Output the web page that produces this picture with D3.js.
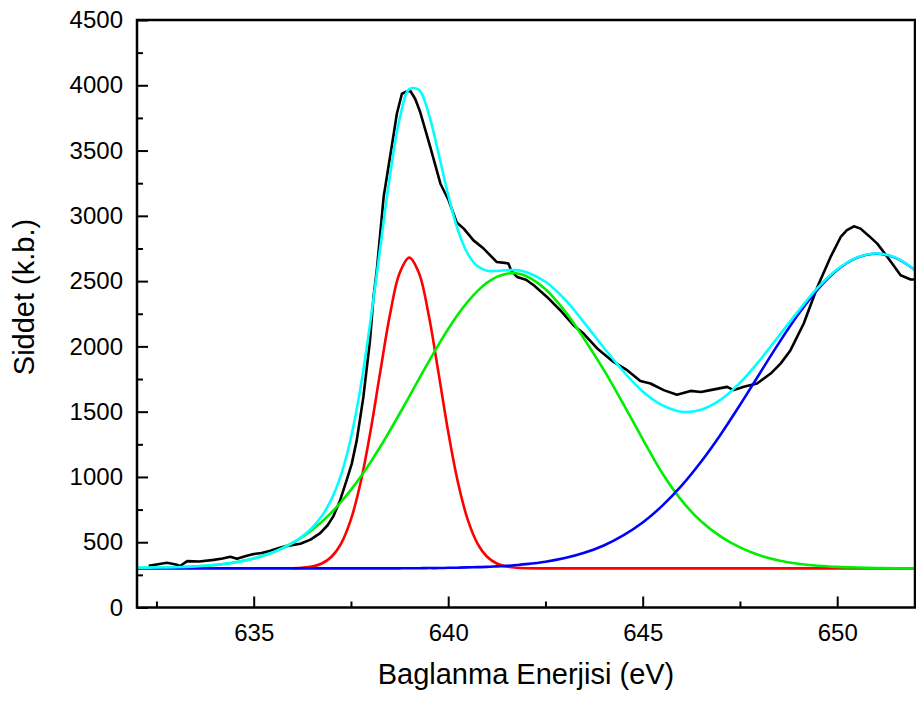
<!DOCTYPE html>
<html>
<head>
<meta charset="utf-8">
<script src="https://cdn.jsdelivr.net/npm/d3@7"></script>
<style>
body { margin: 0; background: #fff; }
svg text { font-family: Arial, "Liberation Sans", sans-serif; fill: #000; }
</style>
</head>
<body>
<div id="chart"></div>
<script>
// fit grid (eV) shared by the three components and the envelope
var fitEnergy = [632, 632.5, 633, 633.5, 634, 634.5, 635, 635.5, 636,
    636.25, 636.5, 636.75, 637, 637.25, 637.5, 637.75, 638, 638.25, 638.5, 638.75,
    639, 639.25, 639.5, 639.75, 640, 640.25, 640.5, 640.75, 641, 641.25, 641.5, 641.75, 642,
    642.5, 643, 643.5, 644, 644.5, 645, 645.5, 646, 646.5, 647, 647.5, 648,
    648.5, 649, 649.5, 650, 650.5, 651, 651.5, 652];

var redFit = [null, null, null, null, null, null, null, null, 301,
    305, 314, 337, 389, 492, 675, 959, 1346, 1799, 2238, 2561,
    2680, 2561, 2238, 1799, 1346, 959, 675, 492, 389, 337, 314, 305, 301,
    300, 300, 300, 300, 300, 300, 300, 300, 300, 300, 300, 300,
    300, 300, 300, 300, 300, 300, 300, 300];

var greenFit = [302, 304, 307, 314, 325, 344, 375, 423, 494,
    540, 594, 656, 728, 810, 901, 1001, 1111, 1229, 1354, 1484,
    1617, 1751, 1884, 2012, 2133, 2244, 2341, 2423, 2488, 2532, 2556, 2560, 2539,
    2438, 2270, 2055, 1820, 1560, 1290, 1030, 820, 660, 545, 460, 400,
    360, 335, 320, 311, 306, 303, 301, 300];

var blueFit = [300, 300, 300, 300, 300, 300, 300, 300, 300,
    300, 300, 300, 300, 300, 300, 300, 300, 300, 300, 300,
    301, 301, 302, 302, 304, 305, 307, 309, 311, 315, 319, 325, 332,
    351, 379, 419, 475, 552, 651, 778, 933, 1116, 1324, 1551, 1789,
    2025, 2246, 2437, 2585, 2678, 2710, 2678, 2585];

var envelopeFit = [305, 306, 308, 314, 325, 344, 375, 423, 495,
    545, 610, 700, 830, 1020, 1300, 1690, 2190, 2750, 3300, 3740,
    3970, 3965, 3780, 3480, 3160, 2890, 2710, 2615, 2580, 2578, 2583, 2585, 2570,
    2495, 2360, 2180, 1990, 1810, 1655, 1550, 1500, 1515, 1590, 1720, 1890,
    2080, 2270, 2450, 2590, 2680, 2712, 2680, 2585];

// measured spectrum
var dataEnergy = [632.3, 632.5, 632.77, 633.0, 633.11, 633.29, 633.6, 633.97, 634.2, 634.4,
    634.57, 634.8, 635.0, 635.2, 635.43, 635.65, 635.86, 636.2, 636.46, 636.71,
    636.9, 637.05, 637.22, 637.39, 637.52, 637.65, 637.82, 637.99, 638.08, 638.17, 638.34,
    638.6, 638.68, 638.81, 638.92, 639.02, 639.15, 639.28, 639.54, 639.8, 640.01,
    640.22, 640.4, 640.65, 640.91, 641.25, 641.45, 641.55, 641.62, 641.77, 642.0,
    642.2, 642.54, 642.88, 643.22, 643.48, 643.83, 644.25, 644.6, 644.94, 645.2,
    645.54, 645.88, 646.23, 646.5, 646.74, 647.17, 647.34, 647.6, 647.94, 648.29,
    648.55, 648.8, 649.14, 649.49, 649.83, 650.09, 650.25, 650.43, 650.6, 650.8,
    651.03, 651.29, 651.45, 651.63, 651.89, 652];
var dataCounts = [320, 330, 343, 330, 318, 355, 352, 365, 375, 389,
    373, 395, 409, 418, 435, 455, 472, 488, 520, 570,
    630, 700, 820, 976, 1100, 1282, 1613, 2047, 2379, 2600, 3144,
    3629, 3782, 3935, 3950, 3960, 3897, 3795, 3527, 3246, 3119,
    2950, 2902, 2812, 2749, 2646, 2640, 2634, 2580, 2532, 2510,
    2468, 2379, 2277, 2162, 2098, 1984, 1881, 1818, 1735, 1716,
    1665, 1630, 1659, 1650, 1665, 1690, 1665, 1690, 1716, 1792,
    1870, 1971, 2175, 2455, 2685, 2838, 2890, 2920, 2902, 2850,
    2787, 2685, 2620, 2545, 2512, 2512];

var xTicks = [635, 640, 645, 650];
var xMinor = [632.5, 637.5, 642.5, 647.5];
var yTicks = [0, 500, 1000, 1500, 2000, 2500, 3000, 3500, 4000, 4500];
var yMinor = [250, 750, 1250, 1750, 2250, 2750, 3250, 3750, 4250];

var width = 916, height = 702;
var plotLeft = 137, plotRight = 915, plotTop = 20, plotBottom = 607.5;

var svg = d3.select("#chart").append("svg")
    .attr("width", width)
    .attr("height", height);

var x = d3.scaleLinear().domain([632, 652]).range([plotLeft, plotRight]);
var y = d3.scaleLinear().domain([0, 4500]).range([plotBottom, plotTop]);

svg.append("clipPath").attr("id", "plotclip")
    .append("rect")
    .attr("x", plotLeft).attr("y", plotTop)
    .attr("width", plotRight - plotLeft).attr("height", plotBottom - plotTop);

function seriesPath(xs, ys, curve) {
    return d3.line()
        .defined(function(i) { return ys[i] != null; })
        .x(function(i) { return x(xs[i]); })
        .y(function(i) { return y(ys[i]); })
        .curve(curve)(d3.range(xs.length));
}

var plot = svg.append("g").attr("clip-path", "url(#plotclip)");

var smooth = d3.curveCatmullRom.alpha(0.5);
var series = [
    {xs: dataEnergy, ys: dataCounts, color: "#000000", curve: d3.curveLinear},
    {xs: fitEnergy, ys: redFit, color: "#ff0000", curve: smooth},
    {xs: fitEnergy, ys: greenFit, color: "#00ee00", curve: smooth},
    {xs: fitEnergy, ys: blueFit, color: "#0000ff", curve: smooth},
    {xs: fitEnergy, ys: envelopeFit, color: "#00ffff", curve: smooth}
];

plot.selectAll(".series")
    .data(series)
    .enter()
        .append("path").attr("class", "series")
        .attr("d", function(d) { return seriesPath(d.xs, d.ys, d.curve); })
        .attr("fill", "none")
        .attr("stroke", function(d) { return d.color; })
        .attr("stroke-width", 2.6)
        .attr("stroke-linejoin", "round");

// axes, ticks pointing inward
svg.append("g")
    .attr("transform", "translate(" + plotLeft + ",0)")
    .call(d3.axisLeft(y).tickValues(yTicks).tickFormat(d3.format("d"))
        .tickSizeInner(-11).tickSizeOuter(0).tickPadding(14));
svg.append("g")
    .attr("transform", "translate(" + plotLeft + ",0)")
    .call(d3.axisLeft(y).tickValues(yMinor).tickSizeInner(-6).tickSizeOuter(0).tickFormat(""));

svg.append("g")
    .attr("transform", "translate(0," + plotBottom + ")")
    .call(d3.axisBottom(x).tickValues(xTicks).tickFormat(d3.format("d"))
        .tickSizeInner(-11).tickSizeOuter(0).tickPadding(16));
svg.append("g")
    .attr("transform", "translate(0," + plotBottom + ")")
    .call(d3.axisBottom(x).tickValues(xMinor).tickSizeInner(-6).tickSizeOuter(0).tickFormat(""));

svg.selectAll(".domain").remove();
svg.selectAll(".tick line").attr("stroke", "#000").attr("stroke-width", 2);
svg.selectAll(".tick text")
    .attr("font-size", "24px")
    .attr("font-family", "Arial, 'Liberation Sans', sans-serif")
    .attr("fill", "#000");

svg.append("rect")
    .attr("x", plotLeft).attr("y", plotTop)
    .attr("width", plotRight - plotLeft).attr("height", plotBottom - plotTop)
    .attr("fill", "none")
    .attr("stroke", "#000")
    .attr("stroke-width", 2.5);

svg.append("text")
    .attr("x", (plotLeft + plotRight) / 2)
    .attr("y", 684)
    .attr("text-anchor", "middle")
    .attr("font-size", "29px")
    .text("Baglanma Enerjisi (eV)");

svg.append("text")
    .attr("transform", "translate(34,297) rotate(-90)")
    .attr("text-anchor", "middle")
    .attr("font-size", "29px")
    .text("Siddet (k.b.)");
</script>
</body>
</html>
